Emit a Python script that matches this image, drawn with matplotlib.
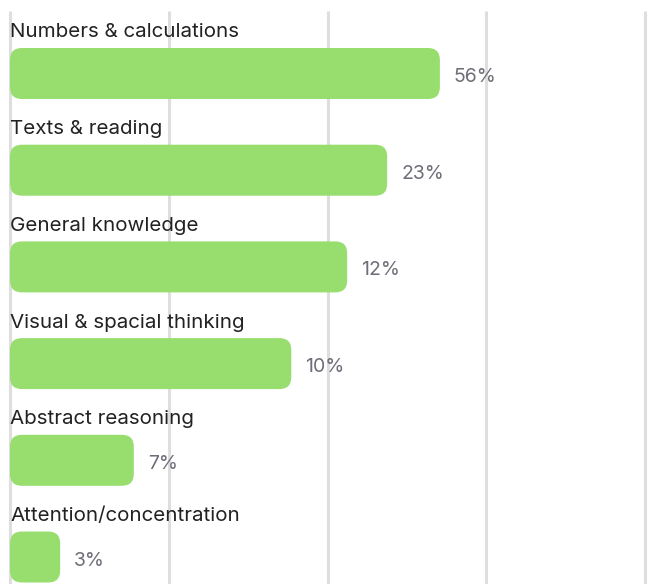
import matplotlib
matplotlib.use('Agg')
import matplotlib.pyplot as plt
from matplotlib.patches import FancyBboxPatch

plt.rcParams['font.family'] = ['Inter', 'DejaVu Sans']

# data
categories = ['Numbers & calculations', 'Texts & reading', 'General knowledge',
              'Visual & spacial thinking', 'Abstract reasoning', 'Attention/concentration']
bar_values = [67.7, 59.4, 53.1, 44.3, 19.5, 7.9]
value_labels = ['56%', '23%', '12%', '10%', '7%', '3%']
grid_ticks = [0, 25, 50, 75, 100]

W, H = 653, 584
fig = plt.figure(figsize=(W / 100, H / 100), dpi=100)
ax = fig.add_axes([0, 0, 1, 1])

# pixel <-> data scales
x0_px, x_per_unit = 10, 6.35      # px of x=0, px per x unit
y0_px, y_per_unit = 73.5, 96.7    # px of row 0 centre, px per row
ax.set_xlim(-x0_px / x_per_unit, (W - x0_px) / x_per_unit)
ax.set_ylim((H - y0_px) / y_per_unit, -y0_px / y_per_unit)
ax.axis('off')

grid_top = (11 - y0_px) / y_per_unit
ax.vlines(grid_ticks, grid_top, (H - y0_px) / y_per_unit, color='#dedede', lw=2.2, zorder=0)

bar_h = 51 / y_per_unit
radius_px = 12
aspect = x_per_unit / y_per_unit
for i, (cat, v, lab) in enumerate(zip(categories, bar_values, value_labels)):
    r = radius_px / x_per_unit
    box = FancyBboxPatch((0, i - bar_h / 2), v, bar_h,
                         boxstyle='round,pad=0,rounding_size=%f' % r,
                         mutation_aspect=aspect, fc='#98de6e', ec='none', zorder=2)
    ax.add_patch(box)
    ax.text(0, i - bar_h / 2 - 10.5 / y_per_unit, cat, fontsize=14.8, color='#222222',
            va='baseline', ha='left', zorder=3)
    ax.text(v + 14 / x_per_unit, i + 3.5 / y_per_unit, lab, fontsize=14, color='#6e6e78',
            va='center', ha='left', zorder=3)

fig.savefig('out.png', dpi=100)
